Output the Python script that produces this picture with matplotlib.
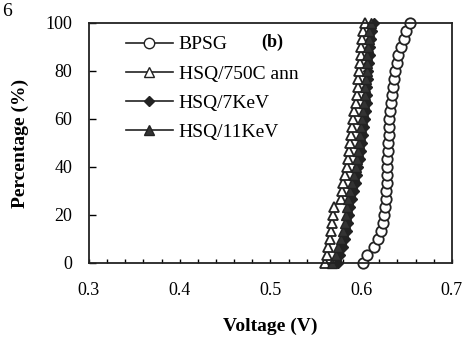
import matplotlib
matplotlib.use("Agg")
import matplotlib.pyplot as plt
from matplotlib.ticker import MultipleLocator
from matplotlib.lines import Line2D

plt.rcParams['font.family'] = ['Liberation Serif', 'DejaVu Serif']

# cumulative percentage (31 points)
pct = [0, 3.3, 6.7, 10, 13.3, 16.7, 20, 23.3, 26.7, 30, 33.3, 36.7, 40, 43.3, 46.7,
       50, 53.3, 56.7, 60, 63.3, 66.7, 70, 73.3, 76.7, 80, 83.3, 86.7, 90, 93.3, 96.7, 100]

bpsg = [0.602, 0.607, 0.614, 0.619, 0.622, 0.624, 0.625, 0.626, 0.627, 0.627, 0.628,
        0.628, 0.629, 0.629, 0.630, 0.630, 0.631, 0.631, 0.631, 0.632, 0.633, 0.634,
        0.635, 0.636, 0.637, 0.639, 0.641, 0.644, 0.647, 0.649, 0.654]
hsq_ann = [0.560, 0.562, 0.564, 0.566, 0.567, 0.568, 0.569, 0.570, 0.578, 0.579, 0.580,
           0.582, 0.584, 0.586, 0.587, 0.588, 0.589, 0.590, 0.591, 0.592, 0.594, 0.596,
           0.597, 0.597, 0.598, 0.599, 0.600, 0.600, 0.601, 0.602, 0.604]
hsq_7kev = [0.574, 0.577, 0.580, 0.582, 0.584, 0.586, 0.587, 0.588, 0.590, 0.592, 0.594,
            0.596, 0.597, 0.599, 0.600, 0.601, 0.602, 0.603, 0.604, 0.605, 0.606, 0.606,
            0.607, 0.608, 0.608, 0.609, 0.610, 0.610, 0.611, 0.612, 0.614]
hsq_11kev = [0.568, 0.572, 0.575, 0.578, 0.580, 0.582, 0.583, 0.584, 0.586, 0.588, 0.590,
             0.592, 0.594, 0.596, 0.597, 0.598, 0.599, 0.600, 0.601, 0.602, 0.603, 0.604,
             0.604, 0.605, 0.606, 0.606, 0.607, 0.608, 0.609, 0.609, 0.611]

fig = plt.figure(figsize=(4.62, 3.38), dpi=100)
ax = fig.add_axes([0.1926, 0.222, 0.7854, 0.71])

ax.plot(bpsg, pct, ls='none', marker='o', ms=7.5, mfc='white', mec='#222222', mew=1.3, clip_on=False)
ax.plot(hsq_ann, pct, ls='none', marker='^', ms=7.5, mfc='white', mec='#222222', mew=1.3, clip_on=False)
ax.plot(hsq_7kev, pct, ls='none', marker='D', ms=5, mfc='#222222', mec='#222222', clip_on=False)
ax.plot(hsq_11kev, pct, ls='none', marker='^', ms=7, mfc='#333333', mec='#222222', clip_on=False)

ax.set_xlim(0.3, 0.7)
ax.set_ylim(0, 100)
ax.xaxis.set_major_locator(MultipleLocator(0.1))
ax.xaxis.set_minor_locator(MultipleLocator(0.02))
ax.yaxis.set_major_locator(MultipleLocator(20))
ax.set_xticks([0.3, 0.4, 0.5, 0.6, 0.7])
ax.set_xticklabels(['0.3', '0.4', '0.5', '0.6', '0.7'])
ax.tick_params(axis='x', which='both', direction='in', length=3, width=1, pad=14, labelsize=13)
ax.tick_params(axis='y', which='major', direction='in', length=5, width=1, pad=12, labelsize=13)
for s in ax.spines.values():
    s.set_linewidth(1.3)
    s.set_color('#222222')

ax.set_xlabel('Voltage (V)', fontsize=14, fontweight='bold', labelpad=13)
ax.set_ylabel('Percentage (%)', fontsize=14, fontweight='bold', labelpad=12)

handles = [
    Line2D([], [], color='#222222', lw=1.2, marker='o', ms=7.5, mfc='white', mec='#222222'),
    Line2D([], [], color='#222222', lw=1.2, marker='^', ms=7.5, mfc='white', mec='#222222'),
    Line2D([], [], color='#222222', lw=1.2, marker='D', ms=5, mfc='#222222'),
    Line2D([], [], color='#222222', lw=1.2, marker='^', ms=7, mfc='#333333'),
]
labels = ['BPSG', 'HSQ/750C ann', 'HSQ/7KeV', 'HSQ/11KeV']
ax.legend(handles, labels, loc='upper left', bbox_to_anchor=(0.07, 0.995), frameon=False,
          fontsize=14, handlelength=2.4, handletextpad=0.3, labelspacing=0.6,
          borderaxespad=0.2)
ax.text(0.475, 0.92, '(b)', transform=ax.transAxes, fontsize=13, fontweight='bold',
        ha='left', va='center')
fig.text(0.005, 0.965, '6', fontsize=14, ha='left', va='center')

fig.savefig('out.png', dpi=100)
